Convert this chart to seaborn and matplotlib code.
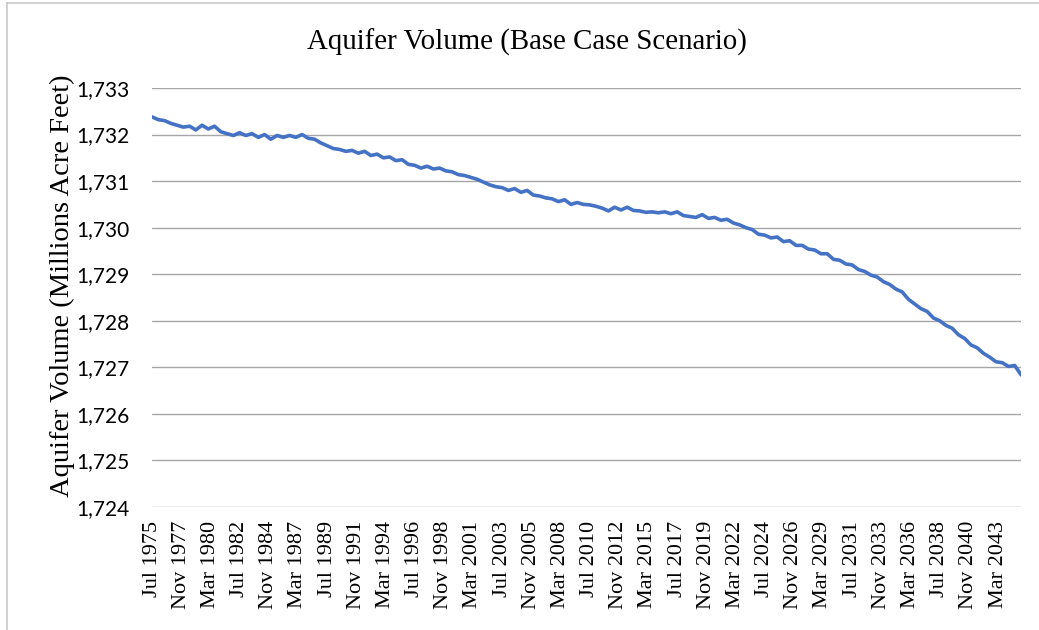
import matplotlib.pyplot as plt
from matplotlib.lines import Line2D
import pandas as pd
import seaborn as sns

# half-yearly readings, Jul 1975 .. Jan 2045 (millions acre feet)
volume = [
    1732.38, 1732.32, 1732.30, 1732.24, 1732.20, 1732.16, 1732.18, 1732.10,
    1732.20, 1732.12, 1732.18, 1732.06, 1732.02, 1731.98, 1732.04, 1731.98,
    1732.02, 1731.94, 1732.00, 1731.90, 1731.98, 1731.94, 1731.98, 1731.94,
    1732.00, 1731.92, 1731.90, 1731.82, 1731.76, 1731.70, 1731.68, 1731.64,
    1731.66, 1731.60, 1731.64, 1731.55, 1731.58, 1731.50, 1731.52, 1731.44,
    1731.46, 1731.36, 1731.34, 1731.28, 1731.32, 1731.26, 1731.28, 1731.22,
    1731.20, 1731.14, 1731.12, 1731.08, 1731.04, 1730.98, 1730.92, 1730.88,
    1730.86, 1730.80, 1730.84, 1730.76, 1730.80, 1730.70, 1730.68, 1730.64,
    1730.62, 1730.56, 1730.60, 1730.50, 1730.54, 1730.50, 1730.49, 1730.46,
    1730.42, 1730.36, 1730.44, 1730.38, 1730.44, 1730.37, 1730.36, 1730.33,
    1730.34, 1730.32, 1730.34, 1730.30, 1730.34, 1730.26, 1730.24, 1730.22,
    1730.28, 1730.20, 1730.22, 1730.16, 1730.18, 1730.10, 1730.06, 1730.00,
    1729.96, 1729.86, 1729.84, 1729.78, 1729.80, 1729.70, 1729.72, 1729.62,
    1729.62, 1729.54, 1729.52, 1729.44, 1729.44, 1729.32, 1729.30, 1729.22,
    1729.20, 1729.10, 1729.06, 1728.98, 1728.94, 1728.84, 1728.78, 1728.68,
    1728.62, 1728.46, 1728.36, 1728.26, 1728.20, 1728.06, 1728.00, 1727.90,
    1727.84, 1727.70, 1727.62, 1727.48, 1727.42, 1727.30, 1727.22, 1727.12,
    1727.10, 1727.02, 1727.04, 1726.84,
]
dates = pd.date_range("1975-07-01", periods=len(volume), freq="6MS")

tick_dates = pd.date_range("1975-07-01", periods=30, freq="28MS")
tick_labels = [d.strftime("%b %Y") for d in tick_dates]
y_ticks = list(range(1724, 1734))

df = pd.DataFrame({"date": dates, "volume": volume})

sns.set_style("white")
plt.rcParams["font.family"] = ["Liberation Serif", "DejaVu Serif"]
plt.rcParams["text.color"] = "black"
plt.rcParams["xtick.color"] = "black"
plt.rcParams["ytick.color"] = "black"

fig = plt.figure(figsize=(10.39, 6.3), dpi=100)
ax = fig.add_axes([0.1463, 0.1952, 0.8364, 0.6651])

sns.lineplot(data=df, x="date", y="volume", color="#4472C4", linewidth=2.6, ax=ax)

ax.set_xlim(dates[0], dates[-1])
ax.set_ylim(1724, 1733)
ax.set_yticks(y_ticks)
ax.set_yticklabels([f"{v:,}" for v in y_ticks], family="Lato", fontsize=15)
ax.set_xticks(tick_dates)
ax.set_xticklabels(tick_labels, rotation=90, fontsize=16)
ax.tick_params(axis="y", length=0, pad=16)
ax.tick_params(axis="x", length=0, pad=10)
ax.grid(axis="y", color="#a6a6a6", linewidth=1.0)
ax.set_axisbelow(True)
for s in ax.spines.values():
    s.set_visible(False)
ax.set_xlabel("")
ax.set_ylabel("")

fig.text(527 / 1039, 1 - 42 / 630, "Aquifer Volume (Base Case Scenario)",
         ha="center", va="center", fontsize=20.8)
fig.text(62 / 1039, 1 - 286 / 630, "Aquifer Volume (Millions Acre Feet)",
         ha="center", va="center", rotation=90, fontsize=20.5)

# chart frame
fig.add_artist(Line2D([7 / 1039, 7 / 1039], [0, 1 - 3 / 630], color="#c8c8c8", linewidth=1.2))
fig.add_artist(Line2D([7 / 1039, 1], [1 - 3 / 630, 1 - 3 / 630], color="#c8c8c8", linewidth=1.2))

fig.savefig("out.png", dpi=100)
